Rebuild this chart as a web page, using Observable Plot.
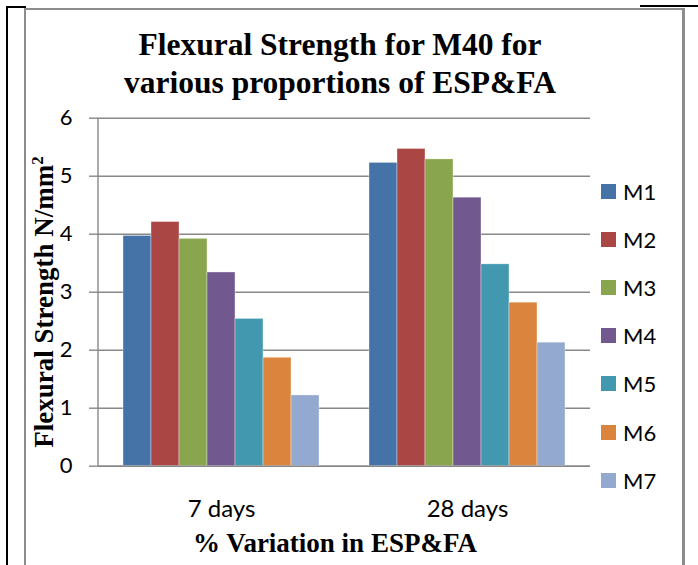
<!DOCTYPE html>
<html>
<head>
<meta charset="utf-8">
<script src="https://cdn.jsdelivr.net/npm/d3@7"></script>
<script src="https://cdn.jsdelivr.net/npm/@observablehq/plot@0.6"></script>
<style>
  html, body { margin: 0; padding: 0; background: #fff; }
  #wrap { position: relative; width: 698px; height: 565px; overflow: hidden; background: #fff; }
  .abs { position: absolute; }
  #title { left: 0; width: 680px; top: 26px; text-align: center; font: bold 31.5px "Liberation Serif", "Times New Roman", serif; line-height: 38px; color: #000; }
  #ytitle { left: 44px; top: 302px; transform: translate(-50%, -50%) rotate(-90deg); white-space: nowrap; font: bold 27px "Liberation Serif", serif; color: #000; }
  #ytitle sup { font-size: 0.62em; vertical-align: 0.55em; line-height: 0; }
  #xtitle { left: 0; width: 670px; top: 528px; text-align: center; font: bold 27px "Liberation Serif", serif; color: #000; line-height: 30px; }
  #plot { left: 0; top: 100px; }
  #legend { left: 601px; top: 167px; }
  .row { height: 48.2px; display: flex; align-items: center; font: 22px Lato, sans-serif; color: #000; }
  .sw { width: 15px; height: 15px; margin-right: 7px; }
</style>
</head>
<body>
<div id="wrap">
  <div class="abs" style="left:6px;top:6px;width:2px;height:570px;background:#000"></div>
  <div class="abs" style="left:6px;top:6px;width:20px;height:2px;background:#000"></div>
  <div class="abs" style="left:640px;top:5px;width:58px;height:2px;background:#000"></div>
  <div class="abs" style="left:24px;top:8px;width:661px;height:600px;border:2px solid #8c8c8c;border-right-width:3px;box-sizing:border-box"></div>
  <div id="title" class="abs">Flexural Strength for M40 for<br>various proportions of ESP&amp;FA</div>
  <div id="ytitle" class="abs">Flexural Strength N/mm<sup>2</sup></div>
  <div id="xtitle" class="abs">% Variation in ESP&amp;FA</div>
  <div id="plot" class="abs"></div>
  <div id="legend" class="abs"></div>
</div>
<script>
const ages = ["7 days", "28 days"];
const mixes = ["M1", "M2", "M3", "M4", "M5", "M6", "M7"];
const day7 = [3.97, 4.21, 3.92, 3.34, 2.54, 1.87, 1.22];
const day28 = [5.23, 5.47, 5.29, 4.63, 3.48, 2.82, 2.13];
const yTicks = [0, 1, 2, 3, 4, 5, 6];
const colors = ["#4572A7", "#AA4643", "#89A54E", "#71588F", "#4198AF", "#DB843D", "#93A9CF"];

const rows = [];
mixes.forEach((m, i) => rows.push({age: ages[0], mix: m, value: day7[i]}));
mixes.forEach((m, i) => rows.push({age: ages[1], mix: m, value: day28[i]}));

const chart = Plot.plot({
  width: 698,
  height: 465,
  marginLeft: 97,
  marginRight: 108,
  marginTop: 17.7,
  marginBottom: 99.3,
  style: {background: "transparent", color: "#000", overflow: "visible"},
  fx: {domain: ages, padding: 0, axis: null},
  x: {domain: mixes, paddingInner: 0, paddingOuter: 0.75, axis: null},
  y: {domain: [0, 6], axis: null},
  color: {domain: mixes, range: colors},
  marks: [
    Plot.gridY(yTicks, {stroke: "#888", strokeOpacity: 1, strokeWidth: 1.4}),
    Plot.barY(rows, {fx: "age", x: "mix", y: "value", fill: "mix", stroke: "#fff", strokeWidth: 0.6, strokeOpacity: 0.6}),
    Plot.ruleY([0], {stroke: "#888", strokeWidth: 1.6}),
    Plot.axisY(yTicks, {tickSize: 9, tickPadding: 17, fontSize: 22, fontFamily: "Lato", stroke: "#888", strokeWidth: 1.4, label: null, tickFormat: d => String(d)}),
    Plot.axisFx({anchor: "bottom", tickSize: 0, tickPadding: 34, fontSize: 24, fontFamily: "Lato", label: null})
  ]
});
document.getElementById("plot").appendChild(chart);

// vertical value-axis line at the left edge of the first group, from the chart's own scales
const fxS = chart.scale("fx"), yS = chart.scale("y");
const x0 = fxS.apply(ages[0]);
d3.select(chart).append("line")
  .attr("x1", x0).attr("x2", x0)
  .attr("y1", yS.apply(yTicks[0])).attr("y2", yS.apply(yTicks[yTicks.length - 1]))
  .attr("stroke", "#888").attr("stroke-width", 1.4);

const legend = document.getElementById("legend");
mixes.forEach((m, i) => {
  const row = document.createElement("div");
  row.className = "row";
  const sw = document.createElement("div");
  sw.className = "sw";
  sw.style.background = colors[i];
  const t = document.createElement("span");
  t.textContent = m;
  row.appendChild(sw);
  row.appendChild(t);
  legend.appendChild(row);
});
</script>
</body>
</html>
